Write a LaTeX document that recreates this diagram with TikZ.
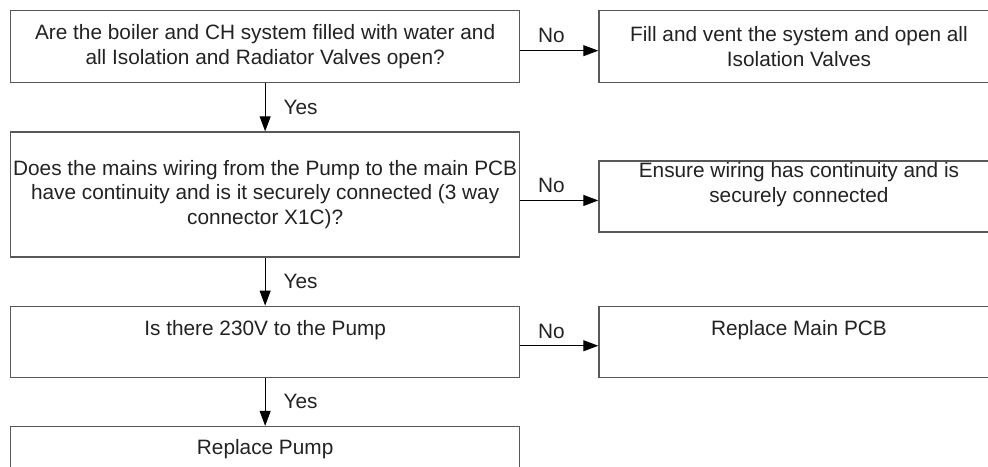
\documentclass[tikz,border=0pt]{standalone}
\usepackage{fontspec}
\setmainfont{Liberation Sans}
\usetikzlibrary{arrows.meta,positioning}
\definecolor{BoxGray}{RGB}{88,88,88}
\definecolor{InkGray}{RGB}{34,34,34}
\tikzset{
  askbox/.style={draw=BoxGray,line width=1.3pt,minimum width=509pt,align=center,inner sep=0pt,font=\fontsize{20.8}{24.8}\selectfont,text=InkGray},
  fixbox/.style={askbox,minimum width=400pt},
  liftup/.style={text depth=#1},
  flowarrow/.style={-{Triangle[length=15pt,width=11pt]},line width=0.9pt,draw=black},
  answer/.style={font=\fontsize{20.8}{24}\selectfont,text=InkGray,inner sep=2pt}
}
\begin{document}
\begin{tikzpicture}[x=1pt,y=1pt,node distance=48pt and 78pt]
\clip (0,0) rectangle (988,-466);
\node[askbox,minimum height=72pt,anchor=north west] (q1) at (10,-10) {Are the boiler and CH system filled with water and\\all Isolation and Radiator Valves open?};
\node[askbox,minimum height=125pt,below=of q1] (q2) {Does the mains wiring from the Pump to the main PCB\\have continuity and is it securely connected (3 way\\connector X1C)?};
\node[askbox,minimum height=71pt,below=of q2,liftup=27pt] (q3) {Is there 230V to the Pump};
\node[askbox,minimum height=46pt,below=of q3] (q4) {Replace Pump};
\node[fixbox,minimum height=72pt,right=of q1] (f1) {Fill and vent the system and open all\\Isolation Valves};
\node[fixbox,minimum height=71pt,right=of q2,yshift=-2pt,liftup=28pt] (f2) {Ensure wiring has continuity and is\\securely connected};
\node[fixbox,minimum height=71pt,right=of q3,liftup=27pt] (f3) {Replace Main PCB};
% yes branches
\foreach \a/\b in {q1/q2,q2/q3,q3/q4}{
  \draw[flowarrow] (\a.south) -- node[answer,right=16pt] {Yes} (\b.north);
}
% no branches
\foreach \a/\b in {q1/f1,q2/f2,q3/f3}{
  \draw[flowarrow] ([yshift=-4pt]\b.west -| \a.east) -- node[answer,above=5pt,xshift=-8pt] {No} ([yshift=-4pt]\b.west);
}
\end{tikzpicture}
\end{document}
